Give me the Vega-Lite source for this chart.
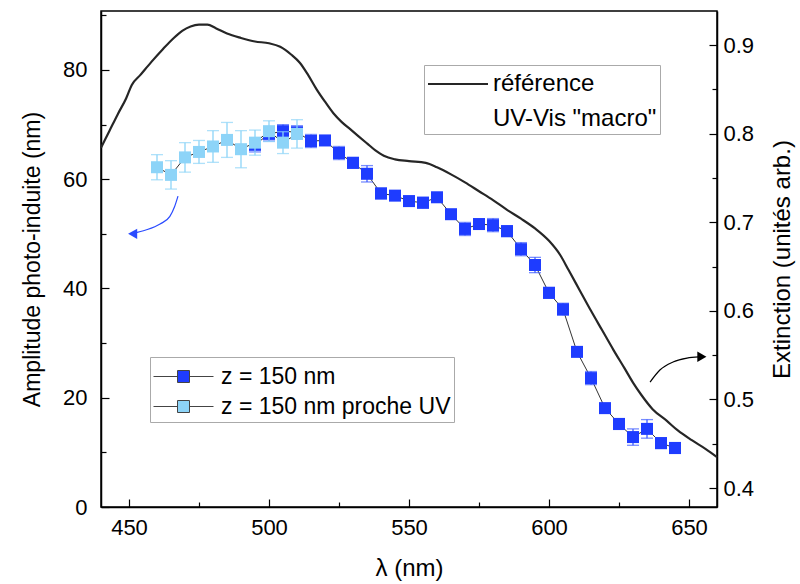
{
  "$schema": "https://vega.github.io/schema/vega-lite/v6.json",
  "width": 616,
  "height": 496,
  "autosize": {"type": "none"},
  "padding": {"left": 101, "top": 11, "right": 83, "bottom": 77},
  "background": "white",
  "config": {
    "font": "Liberation Sans",
    "view": {"stroke": "#000", "strokeWidth": 1.5},
    "axis": {"grid": false, "domainColor": "#000", "domainWidth": 1.5, "tickColor": "#000", "tickWidth": 1.2, "tickSize": -8, "labelColor": "#000", "labelFontSize": 22, "titleColor": "#000", "titleFontSize": 23, "titleFontWeight": "normal", "labelFont": "Liberation Sans", "titleFont": "Liberation Sans"},
    "legend": {"labelFont": "Liberation Sans", "labelFontSize": 23, "labelColor": "#000", "labelLimit": 400},
    "style": {"guide-label": {"lineHeight": 35}}
  },
  "datasets": {
    "ref": [
      {"lambda": 440, "ext": 0.784, "nom": "référence"},
      {"lambda": 443, "ext": 0.803, "nom": "référence"},
      {"lambda": 446, "ext": 0.822, "nom": "référence"},
      {"lambda": 449, "ext": 0.840, "nom": "référence"},
      {"lambda": 451, "ext": 0.855, "nom": "référence"},
      {"lambda": 454, "ext": 0.866, "nom": "référence"},
      {"lambda": 458, "ext": 0.881, "nom": "référence"},
      {"lambda": 462, "ext": 0.895, "nom": "référence"},
      {"lambda": 466, "ext": 0.908, "nom": "référence"},
      {"lambda": 469, "ext": 0.916, "nom": "référence"},
      {"lambda": 472, "ext": 0.921, "nom": "référence"},
      {"lambda": 475, "ext": 0.923, "nom": "référence"},
      {"lambda": 478, "ext": 0.923, "nom": "référence"},
      {"lambda": 481, "ext": 0.919, "nom": "référence"},
      {"lambda": 485, "ext": 0.913, "nom": "référence"},
      {"lambda": 490, "ext": 0.908, "nom": "référence"},
      {"lambda": 495, "ext": 0.904, "nom": "référence"},
      {"lambda": 500, "ext": 0.902, "nom": "référence"},
      {"lambda": 504, "ext": 0.898, "nom": "référence"},
      {"lambda": 508, "ext": 0.889, "nom": "référence"},
      {"lambda": 511, "ext": 0.880, "nom": "référence"},
      {"lambda": 514, "ext": 0.866, "nom": "référence"},
      {"lambda": 517, "ext": 0.850, "nom": "référence"},
      {"lambda": 520, "ext": 0.836, "nom": "référence"},
      {"lambda": 523, "ext": 0.823, "nom": "référence"},
      {"lambda": 526, "ext": 0.813, "nom": "référence"},
      {"lambda": 529, "ext": 0.805, "nom": "référence"},
      {"lambda": 532, "ext": 0.797, "nom": "référence"},
      {"lambda": 535, "ext": 0.789, "nom": "référence"},
      {"lambda": 538, "ext": 0.781, "nom": "référence"},
      {"lambda": 541, "ext": 0.775, "nom": "référence"},
      {"lambda": 545, "ext": 0.771, "nom": "référence"},
      {"lambda": 550, "ext": 0.769, "nom": "référence"},
      {"lambda": 556, "ext": 0.767, "nom": "référence"},
      {"lambda": 560, "ext": 0.762, "nom": "référence"},
      {"lambda": 565, "ext": 0.754, "nom": "référence"},
      {"lambda": 570, "ext": 0.745, "nom": "référence"},
      {"lambda": 575, "ext": 0.735, "nom": "référence"},
      {"lambda": 580, "ext": 0.725, "nom": "référence"},
      {"lambda": 585, "ext": 0.714, "nom": "référence"},
      {"lambda": 590, "ext": 0.704, "nom": "référence"},
      {"lambda": 595, "ext": 0.693, "nom": "référence"},
      {"lambda": 600, "ext": 0.679, "nom": "référence"},
      {"lambda": 604, "ext": 0.663, "nom": "référence"},
      {"lambda": 607, "ext": 0.646, "nom": "référence"},
      {"lambda": 611, "ext": 0.623, "nom": "référence"},
      {"lambda": 615, "ext": 0.600, "nom": "référence"},
      {"lambda": 619, "ext": 0.578, "nom": "référence"},
      {"lambda": 623, "ext": 0.556, "nom": "référence"},
      {"lambda": 627, "ext": 0.535, "nom": "référence"},
      {"lambda": 630, "ext": 0.519, "nom": "référence"},
      {"lambda": 633, "ext": 0.505, "nom": "référence"},
      {"lambda": 637, "ext": 0.489, "nom": "référence"},
      {"lambda": 642, "ext": 0.476, "nom": "référence"},
      {"lambda": 646, "ext": 0.465, "nom": "référence"},
      {"lambda": 651, "ext": 0.454, "nom": "référence"},
      {"lambda": 656, "ext": 0.444, "nom": "référence"},
      {"lambda": 660, "ext": 0.435, "nom": "référence"}
    ],
    "amp": [
      {"serie": "z = 150 nm", "lambda": 495, "amp": 66.3, "lo": 65.0, "hi": 67.6},
      {"serie": "z = 150 nm", "lambda": 500, "amp": 68.3, "lo": 67.0, "hi": 69.6},
      {"serie": "z = 150 nm", "lambda": 505, "amp": 68.8, "lo": 67.6, "hi": 70.0},
      {"serie": "z = 150 nm", "lambda": 510, "amp": 68.6, "lo": 67.4, "hi": 69.8},
      {"serie": "z = 150 nm", "lambda": 515, "amp": 67.0, "lo": 65.8, "hi": 68.2},
      {"serie": "z = 150 nm", "lambda": 520, "amp": 67.1, "lo": 66.2, "hi": 68.0},
      {"serie": "z = 150 nm", "lambda": 525, "amp": 64.8, "lo": 63.6, "hi": 66.0},
      {"serie": "z = 150 nm", "lambda": 530, "amp": 63.0, "lo": 62.0, "hi": 64.0},
      {"serie": "z = 150 nm", "lambda": 535, "amp": 61.0, "lo": 59.5, "hi": 62.5},
      {"serie": "z = 150 nm", "lambda": 540, "amp": 57.4, "lo": 56.4, "hi": 58.4},
      {"serie": "z = 150 nm", "lambda": 545, "amp": 57.0, "lo": 56.2, "hi": 57.8},
      {"serie": "z = 150 nm", "lambda": 550, "amp": 56.0, "lo": 55.1, "hi": 56.9},
      {"serie": "z = 150 nm", "lambda": 555, "amp": 55.7, "lo": 54.7, "hi": 56.7},
      {"serie": "z = 150 nm", "lambda": 560, "amp": 56.7, "lo": 55.9, "hi": 57.5},
      {"serie": "z = 150 nm", "lambda": 565, "amp": 53.6, "lo": 53.0, "hi": 54.2},
      {"serie": "z = 150 nm", "lambda": 570, "amp": 50.9, "lo": 49.7, "hi": 52.1},
      {"serie": "z = 150 nm", "lambda": 575, "amp": 51.8, "lo": 51.0, "hi": 52.6},
      {"serie": "z = 150 nm", "lambda": 580, "amp": 51.6, "lo": 50.4, "hi": 52.8},
      {"serie": "z = 150 nm", "lambda": 585, "amp": 50.5, "lo": 49.5, "hi": 51.5},
      {"serie": "z = 150 nm", "lambda": 590, "amp": 47.2, "lo": 46.0, "hi": 48.4},
      {"serie": "z = 150 nm", "lambda": 595, "amp": 44.3, "lo": 42.9, "hi": 45.7},
      {"serie": "z = 150 nm", "lambda": 600, "amp": 39.2, "lo": 38.2, "hi": 40.2},
      {"serie": "z = 150 nm", "lambda": 605, "amp": 36.2, "lo": 35.1, "hi": 37.3},
      {"serie": "z = 150 nm", "lambda": 610, "amp": 28.4, "lo": 27.6, "hi": 29.2},
      {"serie": "z = 150 nm", "lambda": 615, "amp": 23.6, "lo": 22.4, "hi": 24.8},
      {"serie": "z = 150 nm", "lambda": 620, "amp": 18.1, "lo": 17.3, "hi": 18.9},
      {"serie": "z = 150 nm", "lambda": 625, "amp": 15.2, "lo": 14.2, "hi": 16.2},
      {"serie": "z = 150 nm", "lambda": 630, "amp": 12.8, "lo": 11.3, "hi": 14.3},
      {"serie": "z = 150 nm", "lambda": 635, "amp": 14.3, "lo": 12.6, "hi": 16.0},
      {"serie": "z = 150 nm", "lambda": 640, "amp": 11.7, "lo": 10.7, "hi": 12.7},
      {"serie": "z = 150 nm", "lambda": 645, "amp": 10.8, "lo": 9.8, "hi": 11.8},
      {"serie": "z = 150 nm proche UV", "lambda": 460, "amp": 62.2, "lo": 59.9, "hi": 64.5},
      {"serie": "z = 150 nm proche UV", "lambda": 465, "amp": 60.8, "lo": 58.2, "hi": 63.4},
      {"serie": "z = 150 nm proche UV", "lambda": 470, "amp": 64.0, "lo": 61.3, "hi": 66.7},
      {"serie": "z = 150 nm proche UV", "lambda": 475, "amp": 65.0, "lo": 62.9, "hi": 67.1},
      {"serie": "z = 150 nm proche UV", "lambda": 480, "amp": 66.0, "lo": 63.1, "hi": 68.9},
      {"serie": "z = 150 nm proche UV", "lambda": 485, "amp": 67.2, "lo": 64.0, "hi": 70.4},
      {"serie": "z = 150 nm proche UV", "lambda": 490, "amp": 65.5, "lo": 62.1, "hi": 68.9},
      {"serie": "z = 150 nm proche UV", "lambda": 495, "amp": 66.7, "lo": 64.4, "hi": 69.0},
      {"serie": "z = 150 nm proche UV", "lambda": 500, "amp": 68.8, "lo": 66.9, "hi": 70.7},
      {"serie": "z = 150 nm proche UV", "lambda": 505, "amp": 66.7, "lo": 64.7, "hi": 68.7},
      {"serie": "z = 150 nm proche UV", "lambda": 510, "amp": 68.3, "lo": 65.7, "hi": 70.9}
    ],
    "fleche_bleue": [
      {"lambda": 467.5, "amp": 56.9},
      {"lambda": 466.3, "amp": 55.0},
      {"lambda": 464.6, "amp": 53.2},
      {"lambda": 461.1, "amp": 51.8},
      {"lambda": 456.0, "amp": 50.7},
      {"lambda": 451.5, "amp": 50.1}
    ],
    "pointe_bleue": [{"lambda": 451.3, "amp": 50.0}],
    "fleche_noire": [
      {"lambda": 636.1, "ext": 0.5196},
      {"lambda": 639.6, "ext": 0.5332},
      {"lambda": 644.3, "ext": 0.5422},
      {"lambda": 649.3, "ext": 0.5467},
      {"lambda": 653.5, "ext": 0.548}
    ],
    "pointe_noire": [{"lambda": 654.6, "ext": 0.5482}]
  },
  "layer": [
    {
      "encoding": {
        "x": {
          "field": "lambda", "type": "quantitative",
          "scale": {"domain": [440, 660], "nice": false, "zero": false},
          "axis": {
            "orient": "bottom",
            "values": [450, 500, 550, 600, 650],
            "labelPadding": 18,
            "title": "λ (nm)",
            "titleFontSize": 24,
            "titlePadding": 18
          }
        }
      },
      "layer": [
        {
          "data": {"name": "amp"},
          "mark": {"type": "line", "color": "#333", "strokeWidth": 1},
          "encoding": {
            "y": {
              "field": "amp", "type": "quantitative",
              "scale": {"domain": [0, 90.8], "nice": false, "zero": false},
              "axis": {
                "orient": "left",
                "values": [0, 20, 40, 60, 80],
                "labelPadding": 22,
                "title": "Amplitude photo-induite (nm)",
                "titlePadding": 18
              }
            },
            "detail": {"field": "serie", "type": "nominal"}
          }
        },
        {
          "data": {"name": "amp"},
          "transform": [{"filter": "datum.serie === 'z = 150 nm'"}],
          "mark": {"type": "errorbar", "color": "#3f5cff", "ticks": {"size": 12}, "thickness": 1.3},
          "encoding": {
            "y": {"field": "lo", "type": "quantitative", "axis": null},
            "y2": {"field": "hi"}
          }
        },
        {
          "data": {"name": "amp"},
          "transform": [{"filter": "datum.serie === 'z = 150 nm'"}],
          "mark": {"type": "point", "shape": "square", "filled": true, "size": 144, "opacity": 1},
          "encoding": {
            "y": {"field": "amp", "type": "quantitative", "axis": null},
            "color": {
              "field": "serie", "type": "nominal",
              "scale": {"domain": ["z = 150 nm", "z = 150 nm proche UV"], "range": ["#1e3cff", "#8dd4f8"]},
              "legend": {
                "orient": "none", "legendX": 49, "legendY": 346,
                "title": null,
                "symbolType": "M-1.875,0H-0.375M0.375,0H1.875M-0.375,-0.375H0.375V0.375H-0.375Z",
                "symbolSize": 1024,
                "symbolOffset": 14,
                "symbolStrokeColor": "#444",
                "symbolStrokeWidth": 1,
                "labelOffset": 21,
                "padding": 3,
                "rowPadding": 1,
                "strokeColor": "#aaa",
                "fillColor": "white"
              }
            }
          }
        },
        {
          "data": {"name": "amp"},
          "transform": [{"filter": "datum.serie === 'z = 150 nm proche UV'"}],
          "mark": {"type": "errorbar", "color": "#8dd4f8", "ticks": {"size": 12}, "thickness": 1.3},
          "encoding": {
            "y": {"field": "lo", "type": "quantitative", "axis": null},
            "y2": {"field": "hi"}
          }
        },
        {
          "data": {"name": "amp"},
          "transform": [{"filter": "datum.serie === 'z = 150 nm proche UV'"}],
          "mark": {"type": "point", "shape": "square", "filled": true, "size": 144, "opacity": 1},
          "encoding": {
            "y": {"field": "amp", "type": "quantitative", "axis": null},
            "color": {"field": "serie", "type": "nominal"}
          }
        },
        {
          "data": {"name": "fleche_bleue"},
          "mark": {"type": "line", "color": "#2a4bff", "strokeWidth": 1.2, "interpolate": "monotone"},
          "encoding": {
            "y": {"field": "amp", "type": "quantitative", "axis": null}
          }
        },
        {
          "data": {"name": "pointe_bleue"},
          "mark": {"type": "point", "shape": "triangle-left", "filled": true, "size": 110, "color": "#2a4bff", "opacity": 1},
          "encoding": {
            "y": {
              "field": "amp", "type": "quantitative",
              "axis": {"orient": "left", "values": [10, 30, 50, 70, 90], "labels": false, "domain": false, "tickSize": -5, "title": null}
            }
          }
        }
      ],
      "resolve": {"axis": {"y": "independent"}}
    },
    {
      "encoding": {
        "x": {
          "field": "lambda", "type": "quantitative",
          "axis": {"orient": "bottom", "values": [475, 525, 575, 625], "labels": false, "domain": false, "tickSize": -5, "title": null}
        }
      },
      "layer": [
        {
          "data": {"name": "ref"},
          "mark": {"type": "line", "strokeWidth": 2.2, "interpolate": "monotone"},
          "encoding": {
            "y": {
              "field": "ext", "type": "quantitative",
              "scale": {"domain": [0.3786, 0.9384], "nice": false, "zero": false},
              "axis": {
                "orient": "right",
                "values": [0.4, 0.5, 0.6, 0.7, 0.8, 0.9],
                "format": ".1f",
                "labelPadding": 14,
                "title": "Extinction (unités arb.)",
                "titleAngle": 270,
                "titleFontSize": 24,
                "titlePadding": 41
              }
            },
            "stroke": {
              "field": "nom", "type": "nominal",
              "scale": {"range": ["#262626"]},
              "legend": {
                "orient": "none", "legendX": 323, "legendY": 54,
                "title": null,
                "symbolType": "M-2,0H2",
                "symbolSize": 900,
                "symbolOffset": 15,
                "symbolStrokeWidth": 2,
                "labelOffset": 19,
                "labelFontSize": 24,
                "labelExpr": "['référence', 'UV-Vis \"macro\"']",
                "padding": 3,
                "strokeColor": "#aaa",
                "fillColor": "white"
              }
            }
          }
        },
        {
          "data": {"name": "fleche_noire"},
          "mark": {"type": "line", "color": "#000", "strokeWidth": 1.2, "interpolate": "monotone"},
          "encoding": {
            "y": {"field": "ext", "type": "quantitative", "axis": null}
          }
        },
        {
          "data": {"name": "pointe_noire"},
          "mark": {"type": "point", "shape": "triangle-right", "filled": true, "size": 110, "color": "#000", "opacity": 1},
          "encoding": {
            "y": {
              "field": "ext", "type": "quantitative",
              "axis": {"orient": "right", "values": [0.45, 0.55, 0.65, 0.75, 0.85], "labels": false, "domain": false, "tickSize": -5, "title": null}
            }
          }
        }
      ],
      "resolve": {"axis": {"y": "independent"}}
    }
  ],
  "resolve": {"scale": {"y": "independent"}, "axis": {"x": "independent"}}
}
